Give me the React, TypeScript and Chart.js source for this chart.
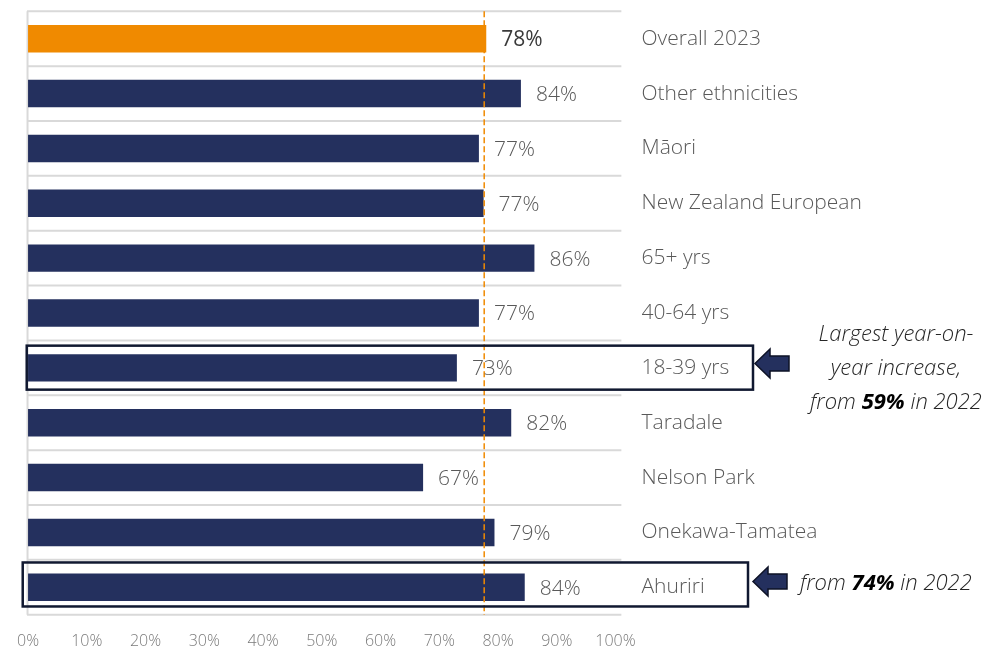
import React, { useEffect, useRef } from "react";
import { Chart, registerables } from "chart.js";

Chart.register(...registerables);

// ---------- data ----------
const categories = [
  "Overall 2023",
  "Other ethnicities",
  "Māori",
  "New Zealand European",
  "65+ yrs",
  "40-64 yrs",
  "18-39 yrs",
  "Taradale",
  "Nelson Park",
  "Onekawa-Tamatea",
  "Ahuriri",
];
const values = [78.0, 83.9, 76.75, 77.55, 86.2, 76.75, 73.0, 82.25, 67.25, 79.4, 84.55];
const valueLabels = ["78%", "84%", "77%", "77%", "86%", "77%", "73%", "82%", "67%", "79%", "84%"];
const xTickValues = [0, 10, 20, 30, 40, 50, 60, 70, 80, 90, 100];
const referenceLine = 77.65;

const highlightRows = [6, 10];
const noteOneLines = [
  [{ t: "Largest year-on-", b: false }],
  [{ t: "year increase,", b: false }],
  [
    { t: "from ", b: false },
    { t: "59%", b: true },
    { t: " in 2022", b: false },
  ],
];
const noteTwoLine = [
  { t: "from ", b: false },
  { t: "74%", b: true },
  { t: " in 2022", b: false },
];

// ---------- styles ----------
const ORANGE = "#F08A00";
const NAVY = "#24305E";
const GRID = "#d9d9d9";
const FONT = '"Open Sans", "DejaVu Sans", sans-serif';

const overlayPlugin = {
  id: "overlay",
  beforeDatasetsDraw(chart: any) {
    const { ctx, scales } = chart;
    const x = scales.x;
    const y = scales.y;
    const n = categories.length;
    const half = (y.getPixelForValue(1) - y.getPixelForValue(0)) / 2;
    const x0 = x.getPixelForValue(0);
    const xEnd = x.getPixelForValue(101);
    ctx.save();
    ctx.strokeStyle = GRID;
    ctx.lineWidth = 2;
    for (let i = 0; i <= n; i++) {
      const py = i < n ? y.getPixelForValue(i) - half : y.getPixelForValue(n - 1) + half;
      ctx.beginPath();
      ctx.moveTo(x0 - 1, py);
      ctx.lineTo(xEnd, py);
      ctx.stroke();
    }
    const top = y.getPixelForValue(0) - half;
    const bottom = y.getPixelForValue(n - 1) + half;
    ctx.beginPath();
    ctx.moveTo(x0 - 0.5, top);
    ctx.lineTo(x0 - 0.5, bottom);
    ctx.stroke();
    ctx.restore();
  },
  afterDatasetsDraw(chart: any) {
    const { ctx, scales } = chart;
    const x = scales.x;
    const y = scales.y;
    const n = categories.length;
    const half = (y.getPixelForValue(1) - y.getPixelForValue(0)) / 2;
    const top = y.getPixelForValue(0) - half;
    const bottom = y.getPixelForValue(n - 1) + half;
    const x0 = x.getPixelForValue(0);

    ctx.save();
    // dashed reference line
    const rx = x.getPixelForValue(referenceLine);
    ctx.strokeStyle = ORANGE;
    ctx.lineWidth = 1.5;
    ctx.setLineDash([6, 3]);
    ctx.beginPath();
    ctx.moveTo(rx, top);
    ctx.lineTo(rx, bottom);
    ctx.stroke();
    ctx.setLineDash([]);

    // value labels
    const meta = chart.getDatasetMeta(0);
    ctx.textBaseline = "middle";
    ctx.textAlign = "left";
    meta.data.forEach((bar: any, i: number) => {
      ctx.font = i === 0 ? `400 21px ${FONT}` : `300 21px ${FONT}`;
      ctx.fillStyle = i === 0 ? "#3a3a3a" : "#595959";
      ctx.fillText(valueLabels[i], bar.x + 15, bar.y + 1.5);
    });

    // highlight boxes
    const boxes = [
      { row: highlightRows[0], left: x0 - 1.3, right: 753, dTop: -22.2, dBottom: 21.8 },
      { row: highlightRows[1], left: x0 - 5.3, right: 748, dTop: -24.8, dBottom: 19.2 },
    ];
    ctx.strokeStyle = "#101830";
    ctx.lineWidth = 2.5;
    boxes.forEach((b) => {
      const cy = y.getPixelForValue(b.row);
      ctx.strokeRect(b.left, cy + b.dTop, b.right - b.left, b.dBottom - b.dTop);
    });

    // arrows
    const arrows = [
      { row: highlightRows[0], tipX: 755, dy: -4.3 },
      { row: highlightRows[1], tipX: 753, dy: -5.8 },
    ];
    arrows.forEach((a) => {
      const cy = y.getPixelForValue(a.row) + a.dy;
      const tx = a.tipX;
      ctx.beginPath();
      ctx.moveTo(tx, cy);
      ctx.lineTo(tx + 15, cy - 14.5);
      ctx.lineTo(tx + 15, cy - 7.5);
      ctx.lineTo(tx + 34, cy - 7.5);
      ctx.lineTo(tx + 34, cy + 7.5);
      ctx.lineTo(tx + 15, cy + 7.5);
      ctx.lineTo(tx + 15, cy + 14.5);
      ctx.closePath();
      ctx.fillStyle = NAVY;
      ctx.fill();
      ctx.strokeStyle = "#0d1226";
      ctx.lineWidth = 1.5;
      ctx.stroke();
    });

    // notes
    const setFont = (bold: boolean) => {
      ctx.font = bold ? `italic 700 22px ${FONT}` : `italic 300 22px ${FONT}`;
      ctx.fillStyle = bold ? "#000000" : "#262626";
    };
    const drawSegs = (segs: { t: string; b: boolean }[], startX: number, baseY: number) => {
      let cx = startX;
      segs.forEach((s) => {
        setFont(s.b);
        ctx.fillText(s.t, cx, baseY);
        cx += ctx.measureText(s.t).width;
      });
    };
    const segWidth = (segs: { t: string; b: boolean }[]) => {
      let w = 0;
      segs.forEach((s) => {
        setFont(s.b);
        w += ctx.measureText(s.t).width;
      });
      return w;
    };
    ctx.textBaseline = "alphabetic";
    ctx.textAlign = "left";
    const noteCenterX = 896;
    const cy1 = y.getPixelForValue(highlightRows[0]);
    noteOneLines.forEach((line, li) => {
      const w = segWidth(line);
      drawSegs(line, noteCenterX - w / 2, cy1 - 27 + li * 34);
    });
    const cy2 = y.getPixelForValue(highlightRows[1]);
    drawSegs(noteTwoLine, 800, cy2 + 2.5);

    ctx.restore();
  },
};

export default function App() {
  const ref = useRef<HTMLCanvasElement>(null);

  useEffect(() => {
    if (!ref.current) return;
    const chart = new Chart(ref.current, {
      type: "bar",
      data: {
        labels: categories,
        datasets: [
          {
            data: values,
            backgroundColor: values.map((_, i) => (i === 0 ? ORANGE : NAVY)),
            borderWidth: 0,
            barPercentage: 0.5,
            categoryPercentage: 1,
          },
        ],
      },
      options: {
        indexAxis: "y",
        responsive: false,
        animation: false,
        events: [],
        layout: { padding: { left: 26, top: 11.3, right: 0, bottom: 0 } },
        plugins: {
          legend: { display: false },
          tooltip: { enabled: false },
        },
        scales: {
          x: {
            type: "linear",
            position: "bottom",
            min: 0,
            max: 100,
            afterBuildTicks: (scale: any) => {
              scale.ticks = xTickValues.map((v) => ({ value: v }));
            },
            ticks: {
              callback: (v: any) => `${v}%`,
              color: "#7a7a7a",
              font: { family: FONT, size: 16, weight: "300" as any },
              padding: 17,
              maxRotation: 0,
              autoSkip: false,
            },
            grid: { display: false, drawTicks: false },
            border: { display: false },
            afterFit: (scale: any) => {
              scale.height = 37.3;
            },
          },
          y: {
            type: "category",
            position: "right",
            grid: { display: false, drawTicks: false },
            border: { display: false },
            ticks: {
              color: "#595959",
              font: { family: FONT, size: 21, weight: "300" as any },
              padding: 26,
              autoSkip: false,
            },
            afterFit: (scale: any) => {
              scale.width = 390.5;
              scale.paddingTop = 0;
              scale.paddingBottom = 0;
            },
          },
        },
      },
      plugins: [overlayPlugin],
    });
    return () => chart.destroy();
  }, []);

  return (
    <div style={{ position: "fixed", left: 0, top: 0, width: 1006, height: 652, background: "#fff" }}>
      <canvas ref={ref} width={1006} height={652} style={{ width: 1006, height: 652 }} />
    </div>
  );
}
